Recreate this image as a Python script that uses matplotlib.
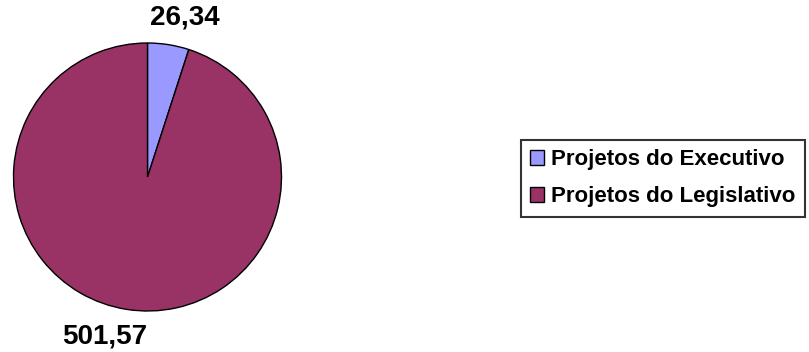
import matplotlib.pyplot as plt

# data
categories = ['Projetos do Executivo', 'Projetos do Legislativo']
values = [26.34, 501.57]
value_labels = ['26,34', '501,57']
colors = ['#9999FF', '#993366']

plt.rcParams['font.family'] = ['Liberation Sans', 'DejaVu Sans']

fig = plt.figure(figsize=(8.09, 3.52), dpi=100)
ax = fig.add_axes([13.5 / 809, 41 / 352, 268 / 809, 268 / 352])

wedges, _ = ax.pie(values, colors=colors, startangle=90, counterclock=False,
                   radius=1, wedgeprops={'edgecolor': 'black', 'linewidth': 1})
ax.set_xlim(-1, 1)
ax.set_ylim(-1, 1)

# value labels
ax.text(0.28, 1.19, value_labels[0], ha='center', va='center',
        fontsize=20, fontweight='bold', clip_on=False)
ax.text(-0.317, -1.19, value_labels[1], ha='center', va='center',
        fontsize=20, fontweight='bold', clip_on=False)

leg = fig.legend(wedges, categories, loc='upper left',
                 bbox_to_anchor=(521 / 809, 1 - 140 / 352),
                 prop={'weight': 'bold', 'size': 16},
                 frameon=True, fancybox=False, handlelength=0.63,
                 handleheight=0.63, handletextpad=0.32, labelspacing=0.72,
                 borderpad=0.42, borderaxespad=0)
leg.get_frame().set_edgecolor('black')
leg.get_frame().set_linewidth(1.5)

fig.savefig('out.png', dpi=100)
